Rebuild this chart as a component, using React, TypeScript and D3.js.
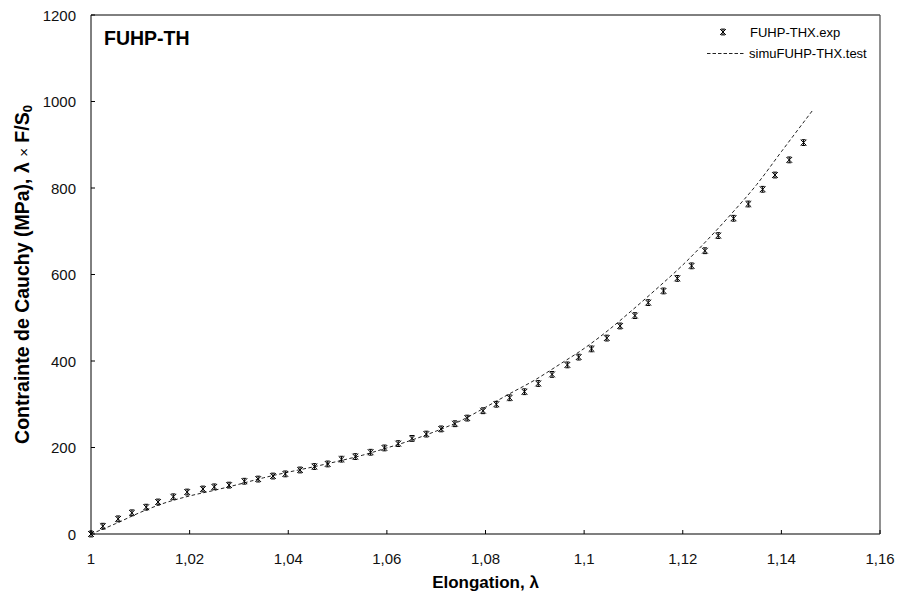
import React from "react";
import * as d3 from "d3";

const expLambda = [1.0000,1.0024,1.0055,1.0083,1.0112,1.0136,1.0167,1.0195,1.0227,1.0250,1.0280,1.0311,1.0339,1.0369,1.0394,1.0424,1.0453,1.0480,1.0508,1.0536,1.0567,1.0595,1.0623,1.0651,1.0680,1.0710,1.0738,1.0763,1.0795,1.0822,1.0849,1.0879,1.0907,1.0935,1.0966,1.0989,1.1015,1.1046,1.1073,1.1103,1.1130,1.1161,1.1189,1.1218,1.1245,1.1272,1.1303,1.1333,1.1362,1.1387,1.1416,1.1445];
const expStress = [0,18,35,49,62,74,86,97,104,109,113,122,127,134,139,148,156,162,173,179,189,199,209,221,231,243,255,268,285,300,315,329,348,369,391,409,428,453,481,505,535,562,591,620,655,690,730,763,797,830,865,905];

const simLambda = [1.000,1.005,1.010,1.015,1.020,1.025,1.030,1.035,1.040,1.045,1.050,1.055,1.060,1.065,1.070,1.075,1.080,1.085,1.090,1.095,1.100,1.105,1.110,1.115,1.120,1.125,1.130,1.135,1.140,1.1463];
const simStress = [0,24,50,72,88,101,115,130,143,155,168,182,199,217,238,262,293,325,356,392,429,472,520,570,622,680,742,808,884,979];

const xTicks = [1, 1.02, 1.04, 1.06, 1.08, 1.1, 1.12, 1.14, 1.16];
const yTicks = [0, 200, 400, 600, 800, 1000, 1200];

const seriesNames = ["FUHP-THX.exp", "simuFUHP-THX.test"];
const chartTitle = "FUHP-TH";

const FONT = "Arial, 'Liberation Sans', sans-serif";

function Star({ x, y }: { x: number; y: number }) {
  const s = 2.9;
  return (
    <path
      d={`M${x - s},${y - s}L${x + s},${y + s}M${x + s},${y - s}L${x - s},${y + s}M${x},${y - s}L${x},${y + s}M${x - s * 0.7},${y - s}L${x + s * 0.7},${y - s}M${x - s * 0.7},${y + s}L${x + s * 0.7},${y + s}`}
      stroke="#000"
      strokeWidth={1}
      fill="none"
    />
  );
}

export default function App() {
  const W = 898, H = 597;
  const x = d3.scaleLinear().domain([1, 1.16]).range([91, 880]);
  const y = d3.scaleLinear().domain([0, 1200]).range([534, 15]);
  const simData = simLambda.map((l, i) => [l, simStress[i]] as [number, number]);
  const line = d3
    .line<[number, number]>()
    .x((d) => x(d[0]))
    .y((d) => y(d[1]))
    .curve(d3.curveMonotoneX);
  const fmt = (v: number) => String(+v.toFixed(2)).replace(".", ",");
  const [x0, x1] = x.range();
  const [yb, yt] = y.range();

  return (
    <svg
      width={W}
      height={H}
      style={{ position: "absolute", left: 0, top: 0, background: "#fff" }}
      fontFamily={FONT}
    >
      <rect x={0} y={0} width={W} height={H} fill="#fff" />
      {/* frame */}
      <line x1={x0} x2={x1} y1={yt} y2={yt} stroke="#000" strokeWidth={1} />
      <line x1={x1} x2={x1} y1={yt} y2={yb} stroke="#555" strokeWidth={1.3} />
      <line x1={x0} x2={x1} y1={yb} y2={yb} stroke="#555" strokeWidth={1.5} />
      <line x1={x0} x2={x0} y1={yt} y2={yb} stroke="#000" strokeWidth={1} />
      {/* ticks */}
      {yTicks.map((t) => (
        <g key={"y" + t}>
          <line x1={x0} x2={x0 + 4} y1={y(t)} y2={y(t)} stroke="#000" />
          <text x={76} y={y(t) + 5.5} fontSize={15} textAnchor="end" fill="#111">
            {t}
          </text>
        </g>
      ))}
      {xTicks.map((t) => (
        <g key={"x" + t}>
          <line x1={x(t)} x2={x(t)} y1={yb} y2={yb - 4} stroke="#000" />
          <text x={x(t)} y={563.5} fontSize={15} textAnchor="middle" fill="#111">
            {fmt(t)}
          </text>
        </g>
      ))}
      {/* simulation line */}
      <path d={line(simData) || ""} fill="none" stroke="#222" strokeWidth={1} strokeDasharray="3.5,2.5" />
      {/* experimental markers */}
      {expLambda.map((l, i) => (
        <Star key={i} x={x(l)} y={y(expStress[i])} />
      ))}
      {/* title */}
      <text x={104} y={44.5} fontSize={19.5} fontWeight="bold" fill="#000">
        {chartTitle}
      </text>
      {/* legend */}
      <Star x={723} y={32} />
      <text x={750} y={36.5} fontSize={13} fill="#000">
        {seriesNames[0]}
      </text>
      <line x1={707} x2={745} y1={53.5} y2={53.5} stroke="#222" strokeWidth={1} strokeDasharray="3.5,2" />
      <text x={749} y={58} fontSize={13} fill="#000">
        {seriesNames[1]}
      </text>
      {/* axis titles */}
      <text x={(x0 + x1) / 2} y={588} fontSize={17} fontWeight="bold" textAnchor="middle" fill="#000">
        Elongation, λ
      </text>
      <text
        transform={`translate(28.5,${(yt + yb) / 2}) rotate(-90)`}
        fontSize={19.5}
        fontWeight="bold"
        textAnchor="middle"
        fill="#000"
      >
        Contrainte de Cauchy (MPa), λ{" "}
        <tspan fontWeight="normal" fontSize={15}>×</tspan>
        <tspan> F/S</tspan>
        <tspan fontSize={13} dy={3}>0</tspan>
      </text>
    </svg>
  );
}
